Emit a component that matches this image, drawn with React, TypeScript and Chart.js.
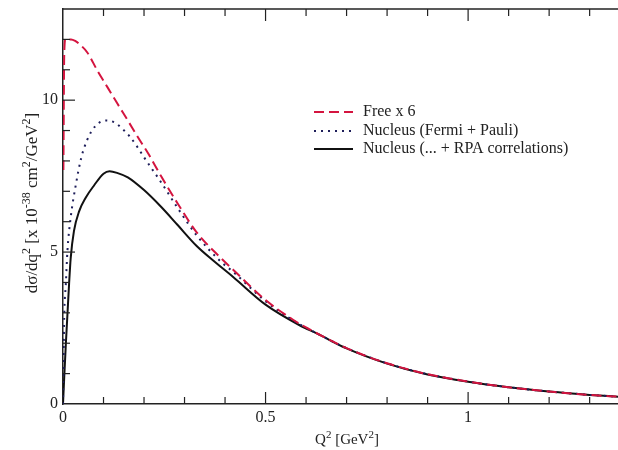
import React, { useEffect, useRef } from "react";
import { Chart, registerables } from "chart.js";

Chart.register(...registerables);

// ---- data ----
const freeQ = [0.001, 0.003, 0.006, 0.02, 0.03, 0.04, 0.06, 0.085, 0.11, 0.135, 0.16, 0.185, 0.21, 0.242, 0.283, 0.33, 0.39, 0.42, 0.5, 0.567, 0.6, 0.7, 0.8, 0.9, 1.0, 1.1, 1.2, 1.3, 1.37];
const freeY = [7.7, 11.5, 12.0, 12.0, 11.95, 11.85, 11.57, 10.97, 10.42, 9.87, 9.33, 8.78, 8.25, 7.5, 6.6, 5.65, 4.8, 4.42, 3.42, 2.78, 2.52, 1.84, 1.34, 0.98, 0.74, 0.55, 0.41, 0.3, 0.24];

const fermiQ = [0, 0.003, 0.007, 0.011, 0.019, 0.032, 0.045, 0.06, 0.08, 0.106, 0.125, 0.143, 0.165, 0.184, 0.2, 0.242, 0.283, 0.33, 0.39, 0.42, 0.5, 0.567, 0.6, 0.7, 0.8, 0.9, 1.0, 1.1, 1.2, 1.3, 1.37];
const fermiY = [0, 2.86, 3.95, 5.05, 6.14, 7.24, 8.1, 8.7, 9.15, 9.33, 9.28, 9.1, 8.8, 8.45, 8.12, 7.3, 6.45, 5.55, 4.68, 4.35, 3.38, 2.76, 2.51, 1.84, 1.34, 0.98, 0.74, 0.55, 0.41, 0.3, 0.24];

const rpaQ = [0, 0.003, 0.007, 0.011, 0.015, 0.019, 0.027, 0.04, 0.056, 0.077, 0.1, 0.115, 0.135, 0.16, 0.2, 0.242, 0.283, 0.33, 0.37, 0.42, 0.5, 0.583, 0.63, 0.7, 0.8, 0.9, 1.0, 1.1, 1.2, 1.3, 1.37];
const rpaY = [0, 0.87, 1.97, 2.96, 3.95, 4.8, 5.69, 6.35, 6.79, 7.2, 7.58, 7.66, 7.6, 7.46, 7.04, 6.49, 5.89, 5.2, 4.73, 4.18, 3.27, 2.6, 2.3, 1.83, 1.33, 0.97, 0.73, 0.55, 0.41, 0.3, 0.24];

const seriesLabels = ["Free x 6", "Nucleus (Fermi + Pauli)", "Nucleus (... + RPA correlations)"];
const xTickValues = [0, 0.5, 1];
const yTickValues = [0, 5, 10];
const xMinorStep = 0.1;
const yMinorStep = 1;
const xMin = 0;
const xMax = 1.37;
const yMin = 0;
const yMax = 13;

const xTitleParts = [
  { t: "Q", sup: false },
  { t: "2", sup: true },
  { t: " [GeV", sup: false },
  { t: "2", sup: true },
  { t: "]", sup: false },
];
const yTitleParts = [
  { t: "d\u03C3/dq", sup: false },
  { t: "2", sup: true },
  { t: " [x 10", sup: false },
  { t: "-38", sup: true },
  { t: " cm", sup: false },
  { t: "2", sup: true },
  { t: "/GeV", sup: false },
  { t: "2", sup: true },
  { t: "]", sup: false },
];

const SERIF = '"Liberation Serif", "Times New Roman", serif';
const AXIS_COLOR = "#222";

function toPoints(qs: number[], ys: number[]) {
  return qs.map((q, i) => ({ x: q, y: ys[i] }));
}

function drawRich(ctx: CanvasRenderingContext2D, parts: { t: string; sup: boolean }[], cx: number, baseline: number, size: number) {
  const supSize = Math.round(size * 0.72);
  const widths = parts.map((p) => {
    ctx.font = `${p.sup ? supSize : size}px ${SERIF}`;
    return ctx.measureText(p.t).width;
  });
  const total = widths.reduce((a, b) => a + b, 0);
  let x = cx - total / 2;
  parts.forEach((p, i) => {
    ctx.font = `${p.sup ? supSize : size}px ${SERIF}`;
    ctx.fillText(p.t, x, p.sup ? baseline - size * 0.42 : baseline);
    x += widths[i];
  });
}

const framePlugin = {
  id: "framePlugin",
  afterDraw(chart: any) {
    const { ctx, chartArea: a, scales } = chart;
    const x = scales.x;
    const y = scales.y;
    ctx.save();
    ctx.strokeStyle = AXIS_COLOR;
    ctx.lineWidth = 1.5;
    ctx.beginPath();
    ctx.moveTo(a.left, a.top);
    ctx.lineTo(a.right, a.top);
    ctx.stroke();

    ctx.lineWidth = 1.2;
    const nx = Math.floor((xMax - xMin) / xMinorStep + 1e-6);
    for (let i = 1; i <= nx; i++) {
      const v = xMin + i * xMinorStep;
      const px = x.getPixelForValue(v);
      const major = i % 5 === 0;
      const len = major ? 12 : 7;
      ctx.beginPath();
      ctx.moveTo(px, a.bottom);
      ctx.lineTo(px, a.bottom - len);
      ctx.moveTo(px, a.top);
      ctx.lineTo(px, a.top + len);
      ctx.stroke();
    }
    const ny = Math.floor((yMax - yMin) / yMinorStep + 1e-6);
    for (let i = 1; i < ny; i++) {
      const v = yMin + i * yMinorStep;
      const py = y.getPixelForValue(v);
      const major = i % 5 === 0;
      const len = major ? 12 : 7;
      ctx.beginPath();
      ctx.moveTo(a.left, py);
      ctx.lineTo(a.left + len, py);
      ctx.stroke();
    }

    // titles
    ctx.fillStyle = AXIS_COLOR;
    ctx.textBaseline = "alphabetic";
    ctx.textAlign = "left";
    drawRich(ctx, xTitleParts, 347, 444, 15);
    ctx.save();
    ctx.translate(37, 203);
    ctx.rotate(-Math.PI / 2);
    drawRich(ctx, yTitleParts, 0, 0, 17);
    ctx.restore();

    // legend
    const rows = [112, 131, 149];
    chart.data.datasets.forEach((ds: any, i: number) => {
      const ry = rows[i];
      ctx.save();
      ctx.strokeStyle = ds.borderColor;
      ctx.lineWidth = ds.borderWidth;
      ctx.setLineDash(ds.borderDash || []);
      ctx.beginPath();
      ctx.moveTo(314, ry);
      ctx.lineTo(353, ry);
      ctx.stroke();
      ctx.restore();
      ctx.fillStyle = "#222";
      ctx.font = `16px ${SERIF}`;
      ctx.textBaseline = "middle";
      ctx.fillText(ds.label, 363, ry);
    });
    ctx.restore();
  },
};

export default function App() {
  const ref = useRef<HTMLCanvasElement | null>(null);
  useEffect(() => {
    document.body.style.margin = "0";
    const canvas = ref.current;
    if (!canvas) return;
    const chart = new Chart(canvas, {
      type: "line",
      data: {
        datasets: [
          {
            label: seriesLabels[0],
            data: toPoints(freeQ, freeY),
            borderColor: "#d4143f",
            borderWidth: 2,
            borderDash: [10, 5],
            pointRadius: 0,
            cubicInterpolationMode: "monotone",
            fill: false,
          },
          {
            label: seriesLabels[1],
            data: toPoints(fermiQ, fermiY),
            borderColor: "#1e1e5a",
            borderWidth: 2,
            borderDash: [2, 5],
            pointRadius: 0,
            cubicInterpolationMode: "monotone",
            fill: false,
          },
          {
            label: seriesLabels[2],
            data: toPoints(rpaQ, rpaY),
            borderColor: "#111",
            borderWidth: 2,
            pointRadius: 0,
            cubicInterpolationMode: "monotone",
            fill: false,
          },
        ],
      },
      options: {
        responsive: false,
        animation: false,
        devicePixelRatio: 1,
        layout: { padding: { top: 9, right: 0, bottom: 0, left: 0 } },
        plugins: { legend: { display: false }, tooltip: { enabled: false } },
        scales: {
          x: {
            type: "linear",
            min: xMin,
            max: xMax,
            afterBuildTicks: (s: any) => {
              s.ticks = xTickValues.map((v) => ({ value: v }));
            },
            afterFit: (s: any) => {
              s.height = 46;
              s.paddingLeft = 0;
              s.paddingRight = 0;
            },
            grid: { display: true, drawOnChartArea: false, drawTicks: false },
            border: { display: true, color: AXIS_COLOR, width: 1.5 },
            ticks: {
              padding: 4,
              color: AXIS_COLOR,
              font: { family: SERIF, size: 16 },
              callback: (v: any) => String(v),
              maxRotation: 0,
            },
          },
          y: {
            type: "linear",
            min: yMin,
            max: yMax,
            afterBuildTicks: (s: any) => {
              s.ticks = yTickValues.map((v) => ({ value: v }));
            },
            afterFit: (s: any) => {
              s.width = 63;
              s.paddingTop = 0;
              s.paddingBottom = 0;
            },
            grid: { display: true, drawOnChartArea: false, drawTicks: false },
            border: { display: true, color: AXIS_COLOR, width: 1.5 },
            ticks: {
              padding: 5,
              color: AXIS_COLOR,
              font: { family: SERIF, size: 16 },
              callback: (v: any) => String(v),
            },
          },
        },
      },
      plugins: [framePlugin],
    } as any);
    return () => chart.destroy();
  }, []);
  return (
    <div style={{ width: 618, height: 450, background: "#fff" }}>
      <canvas ref={ref} width={618} height={450} style={{ display: "block" }} />
    </div>
  );
}
